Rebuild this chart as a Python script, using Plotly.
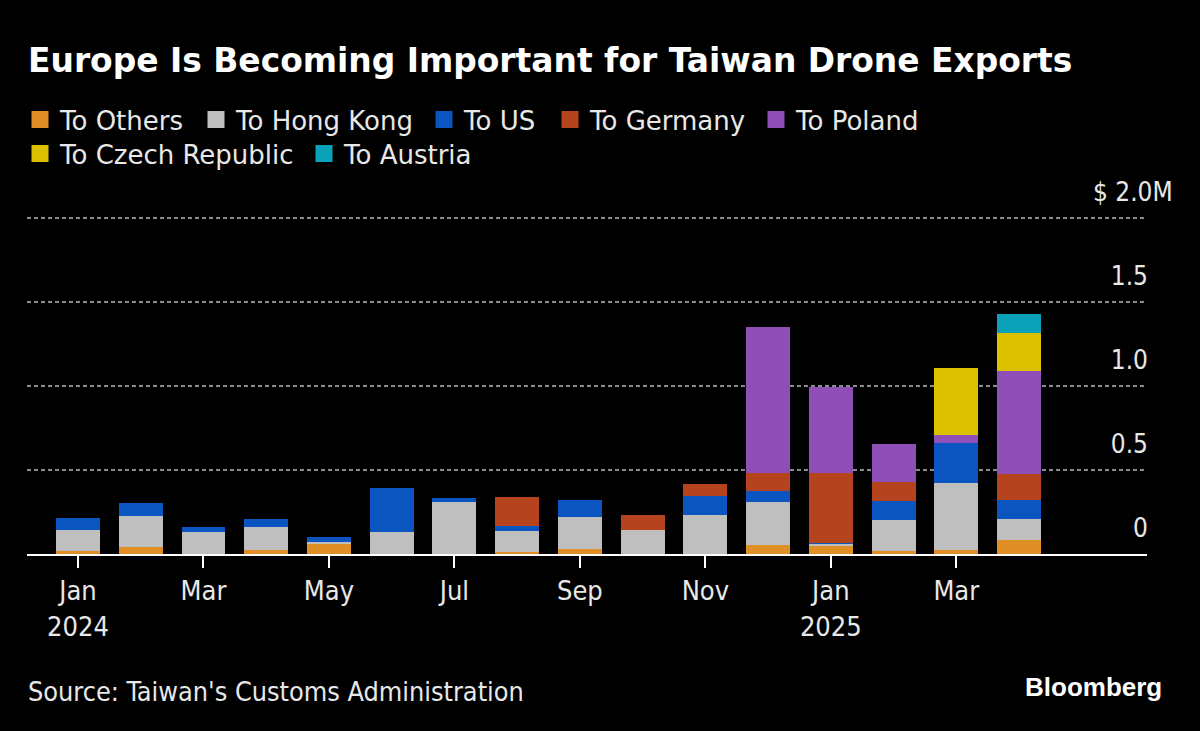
import plotly.graph_objects as go

months = ["Jan 2024", "Feb 2024", "Mar 2024", "Apr 2024", "May 2024", "Jun 2024", "Jul 2024", "Aug 2024",
          "Sep 2024", "Oct 2024", "Nov 2024", "Dec 2024", "Jan 2025", "Feb 2025", "Mar 2025", "Apr 2025"]

to_others = [0.020, 0.042, 0, 0.024, 0.065, 0, 0, 0.014, 0.030, 0, 0, 0.054, 0.050, 0.020, 0.024, 0.083]
to_hong_kong = [0.123, 0.185, 0.131, 0.137, 0.006, 0.133, 0.308, 0.125, 0.189, 0.143, 0.230, 0.256, 0.010, 0.183, 0.397, 0.125]
to_us = [0.070, 0.075, 0.032, 0.046, 0.032, 0.260, 0.026, 0.028, 0.103, 0, 0.113, 0.064, 0.004, 0.115, 0.238, 0.113]
to_germany = [0, 0, 0, 0, 0, 0, 0, 0.171, 0, 0.088, 0.075, 0.107, 0.417, 0.113, 0, 0.155]
to_poland = [0, 0, 0, 0, 0, 0, 0, 0, 0, 0, 0, 0.873, 0.515, 0.224, 0.050, 0.613]
to_czech = [0, 0, 0, 0, 0, 0, 0, 0, 0, 0, 0, 0, 0, 0, 0.397, 0.224]
to_austria = [0, 0, 0, 0, 0, 0, 0, 0, 0, 0, 0, 0, 0, 0, 0, 0.113]

series = [
    ("To Others", to_others, "#e08e26"),
    ("To Hong Kong", to_hong_kong, "#bfbfbf"),
    ("To US", to_us, "#0a55c0"),
    ("To Germany", to_germany, "#b5431d"),
    ("To Poland", to_poland, "#8e4fb8"),
    ("To Czech Republic", to_czech, "#dcc000"),
    ("To Austria", to_austria, "#0aa2b8"),
]

x_tick_months = ["Jan 2024", "Mar 2024", "May 2024", "Jul 2024", "Sep 2024", "Nov 2024", "Jan 2025", "Mar 2025"]
x_tick_labels = ["Jan<br>2024", "Mar", "May", "Jul", "Sep", "Nov", "Jan<br>2025", "Mar"]
y_ticks = [0, 0.5, 1.0, 1.5, 2.0]
y_tick_labels = ["0", "0.5", "1.0", "1.5", ""]

# where each legend entry starts, in pixels (plotly puts wrapped entries in equal columns,
# so every entry gets a legend of its own)
legend_left = [20, 196, 424, 550, 756, 20, 304]
legend_top = [96, 96, 96, 96, 96, 130, 130]

FONT = "DejaVu Sans Condensed, DejaVu Sans"
TEXT = "#e8e8e8"

fig = go.Figure()
for name, values, color in series:
    fig.add_trace(go.Bar(x=months, y=values, name=name, marker=dict(color=color, line=dict(width=0)),
                         width=0.7, showlegend=False))
# legend-only copies, so the swatches can be bigger than the default
for i, (name, values, color) in enumerate(series):
    fig.add_trace(go.Bar(x=[None], y=[None], name=name, legend="legend" if i == 0 else f"legend{i + 1}",
                         marker=dict(color=color, line=dict(color=color, width=5))))

legends = {}
for i, (left, top) in enumerate(zip(legend_left, legend_top)):
    legends["legend" if i == 0 else f"legend{i + 1}"] = dict(
        orientation="h", xref="container", yref="container", x=left / 1200, xanchor="left",
        y=1 - top / 731, yanchor="top", itemclick=False, font=dict(family="DejaVu Sans", size=26, color=TEXT),
        bgcolor="rgba(0,0,0,0)")

fig.update_layout(
    width=1200,
    height=731,
    barmode="stack",
    paper_bgcolor="#000000",
    plot_bgcolor="#000000",
    font=dict(family=FONT, color="#ffffff", size=26),
    margin=dict(l=27, r=53, t=208, b=177),
    title=dict(text="<b>Europe Is Becoming Important for Taiwan Drone Exports</b>",
               x=28 / 1200, xanchor="left", y=1 - 60 / 731, yanchor="middle",
               font=dict(family="DejaVu Sans", size=32.9, color="#ffffff")),
    xaxis=dict(type="category", categoryorder="array", categoryarray=months, range=[-0.813, 17.04],
               tickmode="array", tickvals=x_tick_months, ticktext=x_tick_labels,
               ticks="outside", ticklen=12, tickwidth=2, tickcolor="#ffffff",
               showline=True, linecolor="#ffffff", linewidth=2, showgrid=False,
               tickfont=dict(size=27, color=TEXT)),
    yaxis=dict(side="right", range=[0, 2.0595], tickmode="array", tickvals=y_ticks, ticktext=y_tick_labels,
               ticklabelposition="inside top", ticklabelshift=-8, ticklabelstandoff=-4,
               showgrid=True, gridcolor="#8c8c8c", gridwidth=2,
               griddash="4px,3px", zeroline=False, showline=False, ticks="",
               tickfont=dict(size=26, color=TEXT)),
    annotations=[
        dict(text="$ 2.0M", xref="paper", yref="paper", x=1175 / 1200, y=1 - 192 / 731, xanchor="right",
             yanchor="middle", showarrow=False, font=dict(size=26, color=TEXT)),
        dict(text="Source: Taiwan's Customs Administration", xref="paper", yref="paper", x=26 / 1200,
             y=1 - 691 / 731, xanchor="left", yanchor="middle", showarrow=False, font=dict(size=26.8, color=TEXT)),
        dict(text="<b>Bloomberg</b>", xref="paper", yref="paper", x=1164 / 1200, y=1 - 687 / 731, xanchor="right",
             yanchor="middle", showarrow=False, font=dict(family="Liberation Sans", size=26, color="#ffffff")),
    ],
    **legends,
)
# annotations above are in whole-figure coordinates
for a in fig.layout.annotations:
    a.x = (a.x * 1200 - 27) / (1200 - 27 - 53)
    a.y = (a.y * 731 - 177) / (731 - 208 - 177)

fig.write_html("out.html", post_script="document.body.style.margin='0';", config={"displayModeBar": False})
